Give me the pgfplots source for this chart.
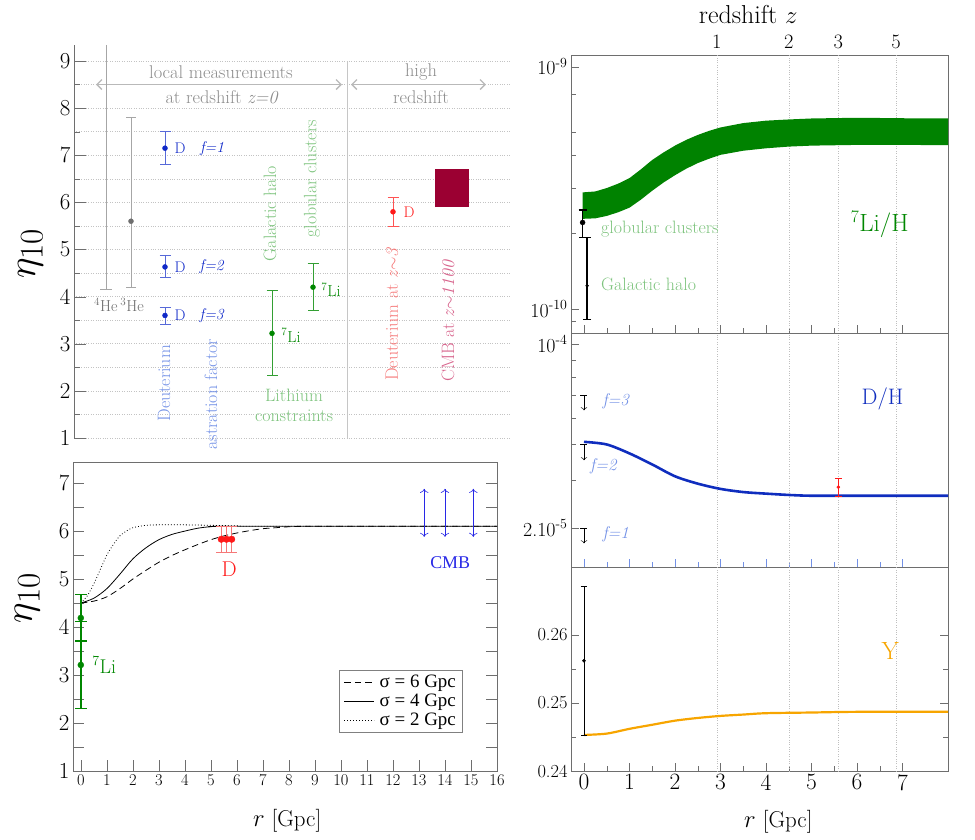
\documentclass[border=0pt]{standalone}
\usepackage{amsmath}
\usepackage{graphicx}
\usepackage{fontspec}
\usepackage{pgfplots}
\pgfplotsset{compat=1.18}
\usetikzlibrary{arrows.meta}
\newfontfamily\timesf{Liberation Serif}
\newcommand{\fs}[1]{\fontsize{#1}{#1}\selectfont}
\newcommand{\etalab}{\fs{24.88}\scalebox{1.6}{$\eta_{10}$}}
\newcommand{\sps}[1]{\textsuperscript{#1}}
\definecolor{axgray}{RGB}{110,110,110}
\definecolor{gridg}{RGB}{195,195,195}
\definecolor{arrg}{RGB}{185,185,185}
\definecolor{txtgray}{RGB}{140,140,140}
\definecolor{ptgray}{RGB}{110,110,110}
\definecolor{dblue}{RGB}{15,40,200}
\definecolor{lblue}{RGB}{115,145,230}
\definecolor{dgreen}{RGB}{0,135,0}
\definecolor{lgreen}{RGB}{125,195,125}
\definecolor{mred}{RGB}{255,25,25}
\definecolor{lred}{RGB}{245,120,120}
\definecolor{pinkt}{RGB}{215,100,140}
\definecolor{cmbr}{RGB}{155,0,50}
\definecolor{borange}{RGB}{247,165,0}
\definecolor{dhblue}{RGB}{15,45,190}
\definecolor{cmbblue}{RGB}{40,40,230}
\definecolor{bandg}{RGB}{0,130,0}
\pgfplotsset{every axis/.append style={/pgf/number format/assume math mode=true}}
\begin{document}
\begin{tikzpicture}[x=1bp,y=1bp]
\path[use as bounding box] (0,0) rectangle (975,840);
%================ A : top left =================
\begin{axis}[at={(74bp,402bp)}, anchor=south west, scale only axis,
  width=436bp, height=393bp,
  xmin=0, xmax=436, ymin=1, ymax=9.34, clip=false,
  axis x line=none, axis y line=left, axis line style={-, draw=axgray},
  tick align=inside, ytick={1,...,9}, minor y tick num=1,
  major tick length=12bp, minor tick length=6bp,
  tick style={axgray},
  yticklabel style={font=\fs{23}},
  ymajorgrids, yminorgrids, grid style={dotted, gridg, line width=0.5pt},
  ylabel={\etalab}, ylabel style={at={(axis description cs:-0.10,0.47)}, anchor=center},
]
% separator and arrows
\addplot[gray!45, line width=0.8pt] coordinates {(273,1) (273,8.99)};
\addplot[arrg, line width=1.3pt, {Straight Barb[length=5bp,width=10bp]}-{Straight Barb[length=5bp,width=10bp]}] coordinates {(22,8.5) (268,8.5)};
\addplot[arrg, line width=1.3pt, {Straight Barb[length=5bp,width=10bp]}-{Straight Barb[length=5bp,width=10bp]}] coordinates {(277,8.5) (412,8.5)};
% 4He
\addplot[gray!70, line width=0.8pt] coordinates {(32,9.34) (32,4.16)};
\addplot[gray!70, line width=0.8pt] coordinates {(26,4.16) (38,4.16)};
% 3He
\addplot[ptgray, only marks, mark=*, mark size=2.5bp, error bars/.cd, y dir=both, y explicit,
  error bar style={gray!70, line width=0.8pt}, error mark options={rotate=90, gray!70, mark size=5bp, line width=0.8pt}]
  coordinates {(57,5.6) += (0,2.2) -= (0,1.4)};
% Deuterium f=1,2,3
\addplot[dblue, only marks, mark=*, mark size=2.5bp, error bars/.cd, y dir=both, y explicit,
  error bar style={dblue!70, line width=0.8pt}, error mark options={rotate=90, dblue!70, mark size=5.5bp, line width=0.8pt}]
  coordinates {(91,7.15) += (0,0.35) -= (0,0.35)
               (91,4.63) += (0,0.24) -= (0,0.23)
               (91,3.60) += (0,0.18) -= (0,0.18)};
% Lithium
\addplot[dgreen, only marks, mark=*, mark size=2.5bp, error bars/.cd, y dir=both, y explicit,
  error bar style={dgreen!80, line width=0.8pt}, error mark options={rotate=90, dgreen!80, mark size=5.5bp, line width=0.8pt}]
  coordinates {(198,3.22) += (0,0.91) -= (0,0.89)
               (239,4.20) += (0,0.50) -= (0,0.50)};
% D high z
\addplot[mred, only marks, mark=*, mark size=2.5bp, error bars/.cd, y dir=both, y explicit,
  error bar style={mred!75, line width=0.8pt}, error mark options={rotate=90, mred!75, mark size=5.5bp, line width=0.8pt}]
  coordinates {(319,5.8) += (0,0.3) -= (0,0.3)};
% CMB box
\addplot[cmbr, line width=34bp] coordinates {(378,5.9) (378,6.7)};
% texts
\node[txtgray, font=\fs{18.5}] at (axis cs:147,8.77) {local measurements};
\node[txtgray, font=\fs{18.5}] at (axis cs:148,8.24) {at redshift \textit{z=0}};
\node[txtgray, font=\fs{18.5}] at (axis cs:347,8.77) {high};
\node[txtgray, font=\fs{18.5}] at (axis cs:347,8.24) {redshift};
\node[ptgray, font=\fs{16}] at (axis cs:45,3.82) {\sps{4}He\,\sps{3}He};
\node[dblue, font=\fs{15.5}] at (axis cs:106,7.15) {D};
\node[dblue, font=\fs{15.5}] at (axis cs:138,7.15) {\textit{f=1}};
\node[dblue, font=\fs{15.5}] at (axis cs:106,4.63) {D};
\node[dblue, font=\fs{15.5}] at (axis cs:138,4.63) {\textit{f=2}};
\node[dblue, font=\fs{15.5}] at (axis cs:106,3.60) {D};
\node[dblue, font=\fs{15.5}] at (axis cs:138,3.60) {\textit{f=3}};
\node[dgreen, font=\fs{16}] at (axis cs:217,3.18) {\sps{7}Li};
\node[dgreen, font=\fs{16}] at (axis cs:257,4.14) {\sps{7}Li};
\node[mred, font=\fs{15.5}] at (axis cs:335,5.8) {D};
\node[lblue, font=\fs{18}, rotate=90] at (axis cs:90,2.16) {Deuterium};
\node[lblue, font=\fs{18}, rotate=90] at (axis cs:137,1.93) {astration factor};
\node[lgreen, font=\fs{18}, rotate=90] at (axis cs:196,5.76) {Galactic halo};
\node[lgreen, font=\fs{18}, rotate=90] at (axis cs:238,6.5) {globular clusters};
\node[lgreen, font=\fs{18}, align=center] at (axis cs:220,1.70) {Lithium\\[2bp]constraints};
\node[lred, font=\fs{18}, rotate=90] at (axis cs:318,3.63) {Deuterium at \textit{z}$\sim$\textit{3}};
\node[pinkt, font=\fs{18}, rotate=90] at (axis cs:374,3.49) {CMB at \textit{z}$\sim$\textit{1100}};
\end{axis}
%================ B : bottom left =================
\begin{axis}[at={(73bp,69bp)}, anchor=south west, scale only axis,
  width=424bp, height=309bp,
  xmin=-0.3, xmax=16, ymin=1, ymax=7.44, clip=false,
  axis line style={axgray}, tick style={axgray},
  tick align=inside, xtick={0,...,16}, ytick={1,...,7}, minor y tick num=1,
  xtick pos=bottom, ytick pos=both,
  major tick length=11bp, minor tick length=11bp,
  xticklabel style={font=\fs{16.5}}, yticklabel style={font=\fs{23}},
  xlabel={$r$ [Gpc]}, xlabel style={font=\fs{23}, at={(axis description cs:0.505,-0.16)}, anchor=center},
  ylabel={\etalab}, ylabel style={at={(axis description cs:-0.108,0.56)}, anchor=center},
  legend style={at={(axis cs:14.7,1.8)}, anchor=south east, font=\timesf\fs{19}, draw=gray, line width=0.8pt,
    inner xsep=5bp, inner ysep=3bp, row sep=1bp},
  legend cell align=left,
  legend image code/.code={\draw[#1, line width=0.8pt] (0bp,0bp) -- (30bp,0bp);},
]
\addplot[black, dash pattern=on 6.5bp off 4bp, line width=0.8pt, smooth] coordinates {
 (0,4.50) (0.5,4.54) (1,4.63) (1.5,4.80) (2,5.00) (2.5,5.18) (3,5.35) (3.5,5.49) (4,5.61)
 (4.5,5.72) (5,5.82) (5.5,5.90) (6,5.96) (6.5,6.01) (7,6.05) (7.5,6.07) (8,6.09) (9,6.10) (16,6.10)};
\addlegendentry{$\,$σ = 6 Gpc}
\addplot[black, line width=0.8pt, smooth] coordinates {
 (0,4.50) (0.5,4.60) (1,4.80) (1.5,5.10) (2,5.42) (2.5,5.65) (3,5.82) (3.5,5.93) (4,6.00)
 (4.5,6.06) (5,6.09) (6,6.10) (16,6.10)};
\addlegendentry{$\,$σ = 4 Gpc}
\addplot[black, dash pattern=on 0.8bp off 2.2bp, line width=0.8pt, smooth] coordinates {
 (0,4.50) (0.25,4.65) (0.5,4.90) (0.75,5.20) (1,5.50) (1.25,5.72) (1.5,5.90) (1.75,6.00)
 (2,6.07) (2.5,6.12) (3,6.13) (4,6.13) (5,6.12) (6,6.11) (7,6.10) (16,6.10)};
\addlegendentry{$\,$σ = 2 Gpc}
% Li
\addplot[dgreen, only marks, mark=*, mark size=3bp, forget plot, error bars/.cd, y dir=both, y explicit,
  error bar style={dgreen, line width=1.4pt}, error mark options={rotate=90, dgreen, mark size=6bp, line width=1.4pt}]
  coordinates {(0,4.19) += (0,0.49) -= (0,0.48)
               (0,3.21) += (0,0.90) -= (0,0.91)};
% D
\addplot[mred, only marks, mark=*, mark size=3.3bp, forget plot, error bars/.cd, y dir=both, y explicit,
  error bar style={lred, line width=0.7pt}, error mark options={rotate=90, lred, mark size=5bp, line width=0.7pt}]
  coordinates {(5.4,5.83) += (0,0.27) -= (0,0.28)
               (5.6,5.83) += (0,0.27) -= (0,0.28)
               (5.8,5.83) += (0,0.27) -= (0,0.28)};
% CMB arrows
\addplot[cmbblue, line width=0.6pt, forget plot, {To[length=4bp]}-{To[length=4bp]}] coordinates {(13.2,5.88) (13.2,6.88)};
\addplot[cmbblue, line width=0.6pt, forget plot, {To[length=4bp]}-{To[length=4bp]}] coordinates {(14.0,5.88) (14.0,6.88)};
\addplot[cmbblue, line width=0.6pt, forget plot, {To[length=4bp]}-{To[length=4bp]}] coordinates {(15.09,5.88) (15.09,6.88)};
\node[dgreen, font=\fs{20}] at (axis cs:0.9,3.21) {\sps{7}Li};
\node[mred, font=\fs{21.5}] at (axis cs:5.7,5.21) {D};
\node[cmbblue, font=\timesf\fs{18}] at (axis cs:14.2,5.34) {CMB};
\end{axis}
%================ C : Li/H =================
\begin{axis}[at={(571bp,507bp)}, anchor=south west, scale only axis,
  width=377bp, height=278bp,
  xmin=-0.285, xmax=8, ymin=-10.099, ymax=-8.952, clip=false,
  axis line style={axgray}, tick style={axgray}, tick align=inside,
  xtick={0,...,7}, minor x tick num=1, xticklabels={}, xtick pos=bottom,
  ytick={-10,-9}, yticklabels={10\sps{-10},10\sps{-9}}, ytick pos=left,
  minor ytick={-9.114,-9.271,-9.367,-9.501,-9.687,-10.051},
  major tick length=8bp, minor tick length=5bp,
  yticklabel style={font=\fs{20}},
  extra x ticks={2.92,4.5,5.59,6.86}, extra x tick labels={},
  extra x tick style={grid=major, major tick length=0bp},
  grid style={dotted, gray!50, line width=0.5pt},
]
\addplot[fill=bandg, draw=none] coordinates {
 (-0.03,-9.519) (0.25,-9.515) (0.5,-9.501) (0.75,-9.483) (1,-9.46) (1.25,-9.424) (1.5,-9.385)
 (1.75,-9.354) (2,-9.326) (2.25,-9.302) (2.5,-9.282) (2.75,-9.265) (3,-9.251) (3.5,-9.233)
 (4,-9.223) (4.5,-9.218) (5,-9.214) (6,-9.211) (7,-9.213) (8,-9.214)
 (8,-9.324) (7,-9.323) (6,-9.323) (5,-9.326) (4.5,-9.330) (4,-9.337) (3.5,-9.347) (3,-9.364)
 (2.75,-9.380) (2.5,-9.398) (2.25,-9.421) (2,-9.448) (1.75,-9.478) (1.5,-9.512) (1.25,-9.549)
 (1,-9.582) (0.75,-9.601) (0.5,-9.616) (0.25,-9.626) (-0.03,-9.628)};
\addplot[black, only marks, mark=*, mark size=2.5bp, error bars/.cd, y dir=both, y explicit,
  error bar style={black, line width=1.5pt}, error mark options={rotate=90, black, mark size=4bp, line width=1.5pt}]
  coordinates {(-0.03,-9.643) += (0,0.052) -= (0,0.063)};
\addplot[black, only marks, mark=*, mark size=1.5bp, error bars/.cd, y dir=both, y explicit,
  error bar style={black, line width=1.5pt}, error mark options={rotate=90, black, mark size=4bp, line width=1.5pt}]
  coordinates {(0.07,-9.904) += (0,0.198) -= (0,0.140)};
\node[lgreen, font=\fs{18}, anchor=west] at (axis cs:0.30,-9.67) {globular clusters};
\node[lgreen, font=\fs{18}, anchor=west] at (axis cs:0.30,-9.897) {Galactic halo};
\node[dgreen, font=\fs{25}] at (axis cs:6.5,-9.652) {\sps{7}Li/H};
\node[font=\fs{26}] at (axis description cs:0.47,1.145) {redshift $z$};
\node[font=\fs{20.5}, anchor=south, yshift=3bp] at (axis cs:2.92,-8.952) {1};
\node[font=\fs{20.5}, anchor=south, yshift=3bp] at (axis cs:4.5,-8.952) {2};
\node[font=\fs{20.5}, anchor=south, yshift=3bp] at (axis cs:5.59,-8.952) {3};
\node[font=\fs{20.5}, anchor=south, yshift=3bp] at (axis cs:6.86,-8.952) {5};
\end{axis}
%================ D : D/H =================
\begin{axis}[at={(571bp,273bp)}, anchor=south west, scale only axis,
  width=377bp, height=234bp,
  xmin=-0.285, xmax=8, ymin=-4.848, ymax=-3.958, clip=false,
  axis line style={axgray}, tick style={axgray}, tick align=inside,
  xtick={0,...,7}, minor x tick num=1, xticklabels={}, xtick pos=bottom,
  x tick style={lblue},
  ytick={-4.699,-4}, yticklabels={2.10\sps{-5},10\sps{-4}}, ytick pos=left,
  minor ytick={-4.060,-4.125,-4.194,-4.280,-4.382,-4.516},
  major tick length=8bp, minor tick length=5bp,
  yticklabel style={font=\fs{20}},
  extra x ticks={2.92,4.5,5.59,6.86}, extra x tick labels={},
  extra x tick style={grid=major, major tick length=0bp},
  grid style={dotted, gray!50, line width=0.5pt},
]
\addplot[dhblue, line width=2.6pt, smooth] coordinates {
 (0,-4.372) (0.5,-4.382) (1,-4.416) (1.5,-4.458) (2,-4.503) (2.5,-4.531) (3,-4.551)
 (3.5,-4.563) (4,-4.569) (4.5,-4.574) (5,-4.577) (6,-4.577) (8,-4.577)};
\addplot[mred, only marks, mark=*, mark size=1.6bp, error bars/.cd, y dir=both, y explicit,
  error bar style={mred, line width=1pt}, error mark options={rotate=90, mred, mark size=3.5bp, line width=1pt}]
  coordinates {(5.59,-4.544) += (0,0.032) -= (0,0.035)};
\addplot[black, line width=0.5pt, {Bar[width=7bp]}-{To[length=3bp]}] coordinates {(0,-4.194) (0,-4.252)};
\addplot[black, line width=0.5pt, {Bar[width=7bp]}-{To[length=3bp]}] coordinates {(0,-4.379) (0,-4.442)};
\addplot[black, line width=0.5pt, {Bar[width=7bp]}-{To[length=3bp]}] coordinates {(0,-4.700) (0,-4.758)};
\node[lblue, font=\fs{17}, anchor=west] at (axis cs:0.33,-4.217) {\textit{f=3}};
\node[lblue, font=\fs{17}, anchor=west] at (axis cs:0.06,-4.465) {\textit{f=2}};
\node[lblue, font=\fs{17}, anchor=west] at (axis cs:0.33,-4.722) {\textit{f=1}};
\node[dhblue, font=\fs{22.5}] at (axis cs:6.56,-4.21) {D/H};
\end{axis}
%================ E : Y =================
\begin{axis}[at={(571bp,69bp)}, anchor=south west, scale only axis,
  width=377bp, height=204bp,
  xmin=-0.285, xmax=8, ymin=0.24, ymax=0.27, clip=false,
  axis line style={axgray}, tick style={axgray}, tick align=inside,
  xtick={0,...,7}, minor x tick num=1, xtick pos=bottom,
  ytick={0.24,0.25,0.26}, minor y tick num=1, ytick pos=both,
  major tick length=8bp, minor tick length=5bp,
  yticklabel style={font=\fs{18.5}, /pgf/number format/fixed, /pgf/number format/precision=2, /pgf/number format/fixed zerofill},
  xticklabel style={font=\fs{23.5}},
  scaled y ticks=false,
  xlabel={$r$ [Gpc]}, xlabel style={font=\fs{23}, at={(axis description cs:0.55,-0.25)}, anchor=center},
  extra x ticks={2.92,4.5,5.59,6.86}, extra x tick labels={},
  extra x tick style={grid=major, major tick length=0bp},
  grid style={dotted, gray!50, line width=0.5pt},
]
\addplot[borange, line width=2.2pt, smooth] coordinates {
 (0,0.2453) (0.5,0.2455) (1,0.2462) (1.5,0.2468) (2,0.2474) (2.5,0.2478) (3,0.2481)
 (3.5,0.2483) (4,0.2485) (5,0.2486) (6,0.2487) (8,0.2487)};
\addplot[black, only marks, mark=*, mark size=1.6bp, error bars/.cd, y dir=both, y explicit,
  error bar style={black, line width=0.6pt}, error mark options={rotate=90, black, mark size=3bp, line width=0.6pt}]
  coordinates {(0,0.2562) += (0,0.0109) -= (0,0.0109)};
\node[borange, font=\fs{25}] at (axis cs:6.73,0.2577) {Y};
\end{axis}
\end{tikzpicture}
\end{document}
